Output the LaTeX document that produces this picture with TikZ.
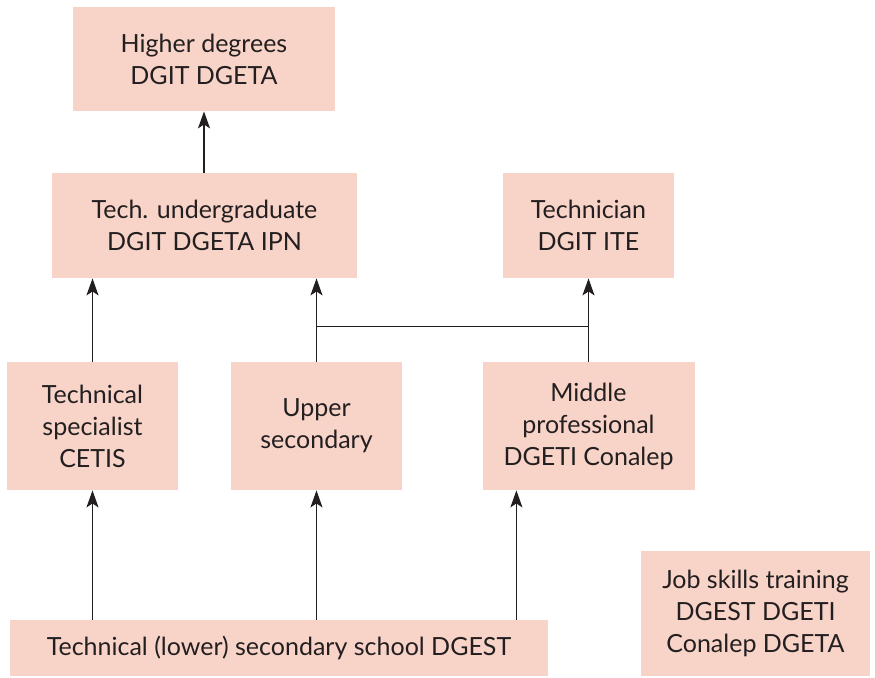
\documentclass[tikz,border=0pt]{standalone}
\usepackage{fontspec}
\setmainfont{Lato}
\usetikzlibrary{arrows.meta,calc}
\definecolor{boxfill}{HTML}{F8D3C8}
\definecolor{ink}{HTML}{231F20}
\begin{document}
\begin{tikzpicture}[x=0.5pt,y=-0.5pt,
  box/.style={fill=boxfill,draw=none,inner sep=0pt,align=center,text=ink,
    font=\fontsize{12.5pt}{16pt}\selectfont},
  arr/.style={draw=ink,line width=0.75pt,-{Stealth[length=8.5pt,width=6pt,inset=2pt]}},
  ln/.style={draw=ink,line width=0.75pt}]
\useasboundingbox (0,0) rectangle (875,677);
\node[box,minimum width=131pt,minimum height=52pt] (hd) at (204,59) {Higher degrees\\DGIT DGETA};
\node[box,minimum width=152.5pt,minimum height=52.5pt] (tu) at (204.5,225.5) {Tech. undergraduate\\DGIT DGETA IPN};
\node[box,minimum width=85.5pt,minimum height=52.5pt] (tc) at (588.5,225.5) {Technician\\DGIT ITE};
\node[box,minimum width=85.5pt,minimum height=64pt] (ts) at (92.5,426) {Technical\\specialist\\CETIS};
\node[box,minimum width=85.5pt,minimum height=64pt] (us) at (316.5,426) {Upper\\secondary};
\node[box,minimum width=106pt,minimum height=64pt] (mp) at (588.5,426) {Middle\\professional\\DGETI Conalep};
\node[box,minimum width=269pt,minimum height=28pt] (tl) at (279,648) {Technical (lower) secondary school DGEST};
\node[box,minimum width=114.5pt,minimum height=62.5pt] (js) at (755.5,613.5) {Job skills training\\DGEST DGETI\\Conalep DGETA};
\draw[arr] (tu.north -| hd.south) -- (hd.south);
\draw[arr] (ts.north) -- (ts.north |- tu.south);
\draw[arr] (us.north) -- (us.north |- tu.south);
\draw[arr] (mp.north) -- (tc.south);
\coordinate (jl) at ($(us.north)+(0,-35)$);
\draw[ln] (jl) -- (jl -| mp.north);
\draw[arr] (ts.south |- tl.north) -- (ts.south);
\draw[arr] (us.south |- tl.north) -- (us.south);
\draw[arr] ([xshift=-16pt]tl.north east) -- ([xshift=-16pt]tl.north east |- mp.south);
\end{tikzpicture}
\end{document}
